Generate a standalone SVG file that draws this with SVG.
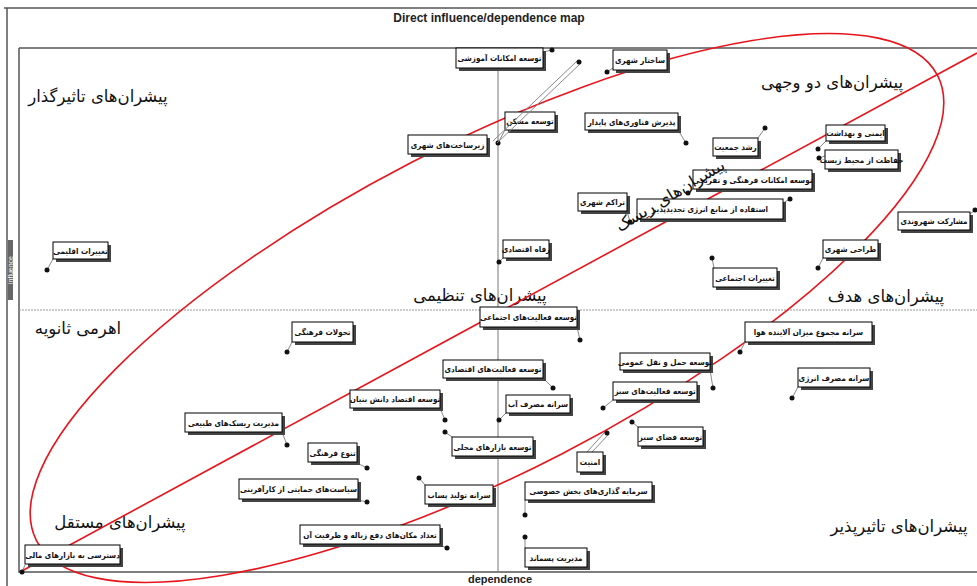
<svg xmlns="http://www.w3.org/2000/svg" width="977" height="586" viewBox="0 0 977 586">
<style>
.frame{fill:none;stroke:#555;stroke-width:1.5}
.axis{stroke:#777;stroke-width:1}
.dash{stroke:#999;stroke-width:1;stroke-dasharray:2 1}
.box{fill:#fff;stroke:#000;stroke-width:1}
.sh{fill:#444}
.lbl{font-family:"DejaVu Sans Condensed","DejaVu Sans",sans-serif;font-size:8px;font-weight:bold;text-anchor:middle;fill:#111}
.pt{fill:#111}
.ld{stroke:#888;stroke-width:1;fill:none}
.q{font-family:"DejaVu Sans","Noto Sans",sans-serif;font-size:16.5px;text-anchor:middle;fill:#111}
.red{fill:none;stroke:#e8141c;stroke-width:1.6}
</style>
<rect width="977" height="586" fill="#fff"/>
<g id="frame">
<path class="frame" d="M4 8H977M7 8V586"/>
<path class="frame" d="M19 48H977M19 48V572H977"/>
<line class="axis" x1="498" y1="48" x2="498" y2="572"/>
<line class="dash" x1="19" y1="310" x2="977" y2="310"/>
<text x="489" y="22" font-family="Liberation Sans Narrow,Liberation Sans,sans-serif" font-size="12" font-weight="bold" text-anchor="middle" fill="#222">Direct influence/dependence map</text>
<text x="500" y="583" font-family="Liberation Sans,sans-serif" font-size="11" font-weight="bold" text-anchor="middle" fill="#222">dependence</text>
<rect x="8" y="240" width="5" height="60" fill="#666"/>
<text x="0" y="0" transform="translate(12.5 270) rotate(-90)" font-family="Liberation Sans,sans-serif" font-size="7" text-anchor="middle" fill="#fff">influence</text>
</g>
<g id="quadrants">
<text class="q" x="98" y="102">پیشران‌های تاثیرگذار</text>
<text class="q" x="832" y="88">پیشران‌های دو وجهی</text>
<text class="q" x="480" y="301">پیشران‌های تنظیمی</text>
<text class="q" x="886" y="302">پیشران‌های هدف</text>
<text class="q" x="78" y="334">اهرمی ثانویه</text>
<text class="q" x="120" y="528">پیشران‌های مستقل</text>
<text class="q" x="899" y="532">پیشران‌های تاثیرپذیر</text>
</g>
<g id="connectors">
<ellipse class="red" cx="487" cy="308" rx="507" ry="164" transform="rotate(-27.3 487 308)"/>
<line class="red" x1="20" y1="572" x2="977" y2="53"/>
</g>
<g id="n1"><line class="ld" x1="543" y1="52" x2="552" y2="50"/><circle class="pt" cx="552" cy="50" r="2.5"/><rect class="sh" x="459" y="51" width="87" height="20"/><rect class="box" x="456" y="48" width="87" height="20"/><text class="lbl" x="499.5" y="61">توسعه امکانات آموزشی</text></g>
<g id="n2"><line class="ld" x1="613" y1="68" x2="607" y2="72"/><circle class="pt" cx="607" cy="72" r="2.5"/><rect class="sh" x="616" y="53" width="54" height="20"/><rect class="box" x="613" y="50" width="54" height="20"/><text class="lbl" x="640" y="63">ساختار شهری</text></g>
<g id="n3"><line class="ld" x1="505" y1="130" x2="498" y2="143"/><circle class="pt" cx="498" cy="143" r="2.5"/><rect class="sh" x="508" y="115" width="50" height="18"/><rect class="box" x="505" y="112" width="50" height="18"/><text class="lbl" x="530" y="124">توسعه مسکن</text></g>
<g id="n4"><path class="ld" d="M493 141L577 61M497 143L581 63"/><circle class="pt" cx="579" cy="62" r="2.5"/><rect class="sh" x="411" y="138" width="79" height="19"/><rect class="box" x="408" y="135" width="79" height="19"/><text class="lbl" x="447.5" y="147.5">زیرساخت‌های شهری</text></g>
<g id="n5"><line class="ld" x1="678" y1="130" x2="686" y2="143"/><circle class="pt" cx="686" cy="143" r="2.5"/><rect class="sh" x="588" y="116" width="93" height="17"/><rect class="box" x="585" y="113" width="93" height="17"/><text class="lbl" x="631.5" y="124.5">پذیرش فناوری‌های پایدار</text></g>
<g id="n6"><line class="ld" x1="758" y1="138" x2="765" y2="128"/><circle class="pt" cx="765" cy="128" r="2.5"/><rect class="sh" x="716" y="141" width="45" height="18"/><rect class="box" x="713" y="138" width="45" height="18"/><text class="lbl" x="735.5" y="150">رشد جمعیت</text></g>
<g id="n7"><line class="ld" x1="826" y1="141" x2="818" y2="149"/><circle class="pt" cx="818" cy="149" r="2.5"/><rect class="sh" x="829" y="128" width="59" height="16"/><rect class="box" x="826" y="125" width="59" height="16"/><text class="lbl" x="855.5" y="136">ایمنی و بهداشت</text></g>
<g id="n8"><line class="ld" x1="825" y1="156" x2="819" y2="158"/><circle class="pt" cx="819" cy="158" r="2.5"/><rect class="sh" x="828" y="153" width="73" height="19"/><rect class="box" x="825" y="150" width="73" height="19"/><text class="lbl" x="861.5" y="162.5">حفاظت از محیط زیست</text></g>
<g id="n9"><line class="ld" x1="693" y1="189" x2="688" y2="193"/><circle class="pt" cx="688" cy="193" r="2.5"/><rect class="sh" x="696" y="173" width="119" height="19"/><rect class="box" x="693" y="170" width="119" height="19"/><text class="lbl" x="752.5" y="182.5">توسعه امکانات فرهنگی و تفریحی</text></g>
<g id="n10"><line class="ld" x1="783" y1="203" x2="790" y2="199"/><circle class="pt" cx="790" cy="199" r="2.5"/><rect class="sh" x="640" y="202" width="146" height="20"/><rect class="box" x="637" y="199" width="146" height="20"/><text class="lbl" x="710" y="212">استفاده از منابع انرژی تجدیدپذیر</text></g>
<g id="n11"><line class="ld" x1="627" y1="211" x2="630" y2="222"/><circle class="pt" cx="630" cy="222" r="2.5"/><rect class="sh" x="581" y="196" width="49" height="18"/><rect class="box" x="578" y="193" width="49" height="18"/><text class="lbl" x="602.5" y="205">تراکم شهری</text></g>
<g id="n12"><line class="ld" x1="970" y1="214" x2="975" y2="210"/><circle class="pt" cx="975" cy="210" r="2.5"/><rect class="sh" x="901" y="215" width="72" height="18"/><rect class="box" x="898" y="212" width="72" height="18"/><text class="lbl" x="934" y="224">مشارکت شهروندی</text></g>
<g id="n13"><line class="ld" x1="823" y1="258" x2="818" y2="268"/><circle class="pt" cx="818" cy="268" r="2.5"/><rect class="sh" x="826" y="243" width="55" height="18"/><rect class="box" x="823" y="240" width="55" height="18"/><text class="lbl" x="850.5" y="252">طراحی شهری</text></g>
<g id="n14"><line class="ld" x1="714" y1="268" x2="712" y2="258"/><circle class="pt" cx="712" cy="258" r="2.5"/><rect class="sh" x="716" y="271" width="64" height="19"/><rect class="box" x="713" y="268" width="64" height="19"/><text class="lbl" x="745" y="280.5">تغییرات اجتماعی</text></g>
<g id="n15"><line class="ld" x1="53" y1="259" x2="47" y2="270"/><circle class="pt" cx="47" cy="270" r="2.5"/><rect class="sh" x="56" y="245" width="55" height="17"/><rect class="box" x="53" y="242" width="55" height="17"/><text class="lbl" x="80.5" y="253.5">تغییرات اقلیمی</text></g>
<g id="n16"><line class="ld" x1="503" y1="258" x2="499" y2="262"/><circle class="pt" cx="499" cy="262" r="2.5"/><rect class="sh" x="506" y="243" width="46" height="18"/><rect class="box" x="503" y="240" width="46" height="18"/><text class="lbl" x="526" y="252">رفاه اقتصادی</text></g>
<g id="n17"><line class="ld" x1="577" y1="327" x2="580" y2="340"/><circle class="pt" cx="580" cy="340" r="2.5"/><rect class="sh" x="483" y="310" width="97" height="20"/><rect class="box" x="480" y="307" width="97" height="20"/><text class="lbl" x="528.5" y="320">توسعه فعالیت‌های اجتماعی</text></g>
<g id="n18"><line class="ld" x1="292" y1="342" x2="287" y2="352"/><circle class="pt" cx="287" cy="352" r="2.5"/><rect class="sh" x="295" y="325" width="61" height="20"/><rect class="box" x="292" y="322" width="61" height="20"/><text class="lbl" x="322.5" y="335">تحولات فرهنگی</text></g>
<g id="n19"><line class="ld" x1="745" y1="342" x2="740" y2="352"/><circle class="pt" cx="740" cy="352" r="2.5"/><rect class="sh" x="748" y="325" width="127" height="20"/><rect class="box" x="745" y="322" width="127" height="20"/><text class="lbl" x="808.5" y="335">سرانه مجموع میزان آلاینده هوا</text></g>
<g id="n20"><line class="ld" x1="710" y1="370" x2="713" y2="388"/><circle class="pt" cx="713" cy="388" r="2.5"/><rect class="sh" x="623" y="356" width="90" height="17"/><rect class="box" x="620" y="353" width="90" height="17"/><text class="lbl" x="665" y="364.5">توسعه حمل و نقل عمومی</text></g>
<g id="n21"><line class="ld" x1="798" y1="387" x2="792" y2="398"/><circle class="pt" cx="792" cy="398" r="2.5"/><rect class="sh" x="801" y="371" width="72" height="19"/><rect class="box" x="798" y="368" width="72" height="19"/><text class="lbl" x="834" y="380.5">سرانه مصرف انرژی</text></g>
<g id="n22"><line class="ld" x1="543" y1="378" x2="553" y2="388"/><circle class="pt" cx="553" cy="388" r="2.5"/><rect class="sh" x="446" y="363" width="100" height="18"/><rect class="box" x="443" y="360" width="100" height="18"/><text class="lbl" x="493" y="372">توسعه فعالیت‌های اقتصادی</text></g>
<g id="n23"><line class="ld" x1="440" y1="408" x2="445" y2="420"/><circle class="pt" cx="445" cy="420" r="2.5"/><rect class="sh" x="353" y="393" width="90" height="18"/><rect class="box" x="350" y="390" width="90" height="18"/><text class="lbl" x="395" y="402">توسعه اقتصاد دانش بنیان</text></g>
<g id="n24"><line class="ld" x1="506" y1="413" x2="499" y2="420"/><circle class="pt" cx="499" cy="420" r="2.5"/><rect class="sh" x="509" y="398" width="64" height="18"/><rect class="box" x="506" y="395" width="64" height="18"/><text class="lbl" x="538" y="407">سرانه مصرف آب</text></g>
<g id="n25"><line class="ld" x1="613" y1="400" x2="603" y2="408"/><circle class="pt" cx="603" cy="408" r="2.5"/><rect class="sh" x="616" y="385" width="84" height="18"/><rect class="box" x="613" y="382" width="84" height="18"/><text class="lbl" x="655" y="394">توسعه فعالیت‌های سبز</text></g>
<g id="n26"><line class="ld" x1="282" y1="432" x2="287" y2="445"/><circle class="pt" cx="287" cy="445" r="2.5"/><rect class="sh" x="188" y="416" width="97" height="19"/><rect class="box" x="185" y="413" width="97" height="19"/><text class="lbl" x="233.5" y="425.5">مدیریت ریسک‌های طبیعی</text></g>
<g id="n27"><line class="ld" x1="452" y1="437" x2="445" y2="432"/><circle class="pt" cx="445" cy="432" r="2.5"/><rect class="sh" x="455" y="440" width="81" height="19"/><rect class="box" x="452" y="437" width="81" height="19"/><text class="lbl" x="492.5" y="449.5">توسعه بازارهای محلی</text></g>
<g id="n28"><line class="ld" x1="638" y1="427" x2="632" y2="422"/><circle class="pt" cx="632" cy="422" r="2.5"/><rect class="sh" x="641" y="430" width="65" height="19"/><rect class="box" x="638" y="427" width="65" height="19"/><text class="lbl" x="670.5" y="439.5">توسعه فضای سبز</text></g>
<g id="n29"><path class="ld" d="M587 452L605 432M591 453L609 434"/><circle class="pt" cx="607" cy="433" r="2.5"/><rect class="sh" x="580" y="455" width="26" height="20"/><rect class="box" x="577" y="452" width="26" height="20"/><text class="lbl" x="590" y="465">امنیت</text></g>
<g id="n30"><line class="ld" x1="357" y1="463" x2="367" y2="468"/><circle class="pt" cx="367" cy="468" r="2.5"/><rect class="sh" x="311" y="446" width="49" height="19"/><rect class="box" x="308" y="443" width="49" height="19"/><text class="lbl" x="332.5" y="455.5">تنوع فرهنگی</text></g>
<g id="n31"><line class="ld" x1="358" y1="500" x2="367" y2="502"/><circle class="pt" cx="367" cy="502" r="2.5"/><rect class="sh" x="242" y="482" width="119" height="20"/><rect class="box" x="239" y="479" width="119" height="20"/><text class="lbl" x="298.5" y="492">سیاست‌های حمایتی از کارآفرینی</text></g>
<g id="n32"><line class="ld" x1="425" y1="485" x2="419" y2="478"/><circle class="pt" cx="419" cy="478" r="2.5"/><rect class="sh" x="428" y="488" width="68" height="19"/><rect class="box" x="425" y="485" width="68" height="19"/><text class="lbl" x="459" y="497.5">سرانه تولید پساب</text></g>
<g id="n33"><line class="ld" x1="525" y1="500" x2="525" y2="515"/><circle class="pt" cx="525" cy="515" r="2.5"/><rect class="sh" x="528" y="485" width="127" height="18"/><rect class="box" x="525" y="482" width="127" height="18"/><text class="lbl" x="588.5" y="494">سرمایه گذاری‌های بخش خصوصی</text></g>
<g id="n34"><line class="ld" x1="440" y1="545" x2="447" y2="548"/><circle class="pt" cx="447" cy="548" r="2.5"/><rect class="sh" x="303" y="528" width="140" height="19"/><rect class="box" x="300" y="525" width="140" height="19"/><text class="lbl" x="370" y="537.5">تعداد مکان‌های دفع زباله و ظرفیت آن</text></g>
<g id="n35"><line class="ld" x1="525" y1="548" x2="525" y2="537"/><circle class="pt" cx="525" cy="537" r="2.5"/><rect class="sh" x="528" y="551" width="62" height="19"/><rect class="box" x="525" y="548" width="62" height="19"/><text class="lbl" x="556" y="560.5">مدیریت پسماند</text></g>
<g id="n36"><line class="ld" x1="25" y1="565" x2="22" y2="572"/><circle class="pt" cx="22" cy="572" r="2.5"/><rect class="sh" x="28" y="548" width="95" height="19"/><rect class="box" x="25" y="545" width="95" height="19"/><text class="lbl" x="72.5" y="557.5">دسترسی به بازارهای مالی</text></g>
<g id="overlay">
<text class="q" x="0" y="0" font-size="13" transform="translate(673 200) rotate(-31)">پیشران‌های ریسک</text>
</g>
</svg>
